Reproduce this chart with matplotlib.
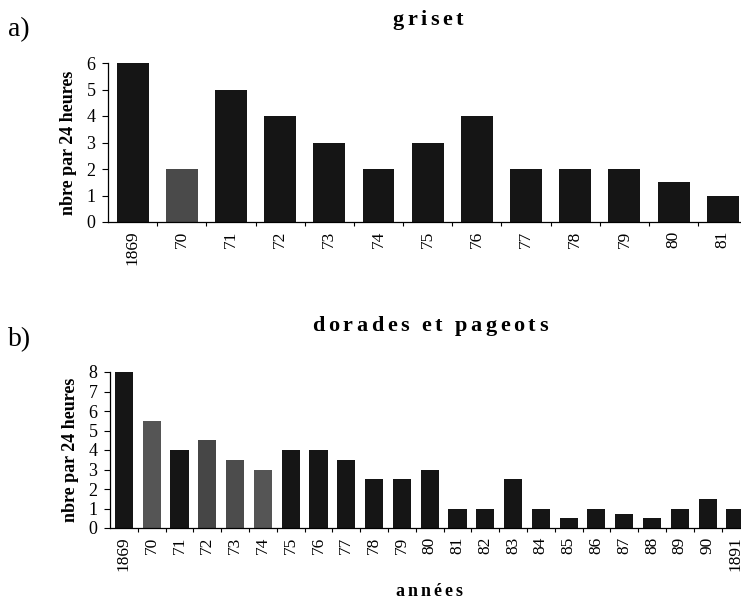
import matplotlib
matplotlib.use('Agg')
import matplotlib.pyplot as plt
import numpy as np

# a) griset
years_a = ['1869', '70', '71', '72', '73', '74', '75', '76', '77', '78', '79', '80', '81']
griset = [6, 2, 5, 4, 3, 2, 3, 4, 2, 2, 2, 1.5, 1]
colors_a = ['#151515', '#4a4a4a'] + ['#151515'] * 11

# b) dorades et pageots
years_b = ['1869', '70', '71', '72', '73', '74', '75', '76', '77', '78', '79', '80',
           '81', '82', '83', '84', '85', '86', '87', '88', '89', '90', '1891']
dorades = [8, 5.5, 4, 4.5, 3.5, 3, 4, 4, 3.5, 2.5, 2.5, 3,
           1, 1, 2.5, 1, 0.5, 1, 0.7, 0.5, 1, 1.5, 1]
colors_b = ['#151515', '#555555', '#151515', '#464646', '#4c4c4c', '#555555'] + ['#151515'] * 17

plt.rcParams['font.family'] = ['Liberation Serif', 'DejaVu Serif']
plt.rcParams['axes.linewidth'] = 0.9

fig = plt.figure(figsize=(7.41, 6.04), dpi=100)


def spaced_text(x, y, s, size, gap, weight='bold'):
    # draw text with letter spacing, centred on x (figure fraction)
    r = fig.canvas.get_renderer()
    W = fig.bbox.width
    ws = []
    for ch in s:
        t = fig.text(0, 0, ch, fontsize=size, fontweight=weight)
        if ch == ' ':
            ws.append(size * 0.25 * 100 / 72)
        else:
            ws.append(t.get_window_extent(r).width)
        t.remove()
    total = sum(ws) + gap * (len(s) - 1)
    pos = x * W - total / 2
    for ch, w in zip(s, ws):
        fig.text(pos / W, y, ch, fontsize=size, fontweight=weight, ha='left', va='center')
        pos += w + gap


def panel(rect, labels, vals, cols, ymax, xmax):
    ax = fig.add_axes(rect)
    x = np.arange(len(vals))
    ax.bar(x, vals, width=0.65, color=cols, edgecolor='none')
    ax.set_xlim(-0.5, xmax)
    ax.set_ylim(0, ymax)
    ax.set_yticks(range(ymax + 1))
    ax.set_xticks(x)
    ax.set_xticklabels(labels, rotation=90, fontsize=12.5)
    ax.set_xticks(x[:-1] + 0.5, minor=True)
    ax.tick_params(axis='x', which='major', length=0, pad=6)
    ax.tick_params(axis='x', which='minor', length=3, direction='out', width=0.8)
    ax.tick_params(axis='y', length=4, width=0.8, pad=5, labelsize=13)
    ax.spines['top'].set_visible(False)
    ax.spines['right'].set_visible(False)
    ax.set_ylabel('nbre par 24 heures', fontsize=13, fontweight='bold', labelpad=7)
    return ax


ax1 = panel([108 / 741, 1 - 222 / 604, 1 - 108 / 741, 159 / 604],
            years_a, griset, colors_a, 6, 12.37)
ax2 = panel([110 / 741, 1 - 528 / 604, 1 - 110 / 741, 156 / 604],
            years_b, dorades, colors_b, 8, 22.2)

spaced_text(428 / 741, 1 - 20 / 604, 'griset', 16, 3.5)
spaced_text(430 / 741, 1 - 326 / 604, 'dorades et pageots', 16, 3.5)
fig.text(8 / 741, 1 - 30 / 604, 'a)', fontsize=20, va='center')
fig.text(8 / 741, 1 - 340 / 604, 'b)', fontsize=20, va='center')
spaced_text(429 / 741, 1 - 591 / 604, 'années', 13, 3)

fig.savefig('out.png', dpi=100)
